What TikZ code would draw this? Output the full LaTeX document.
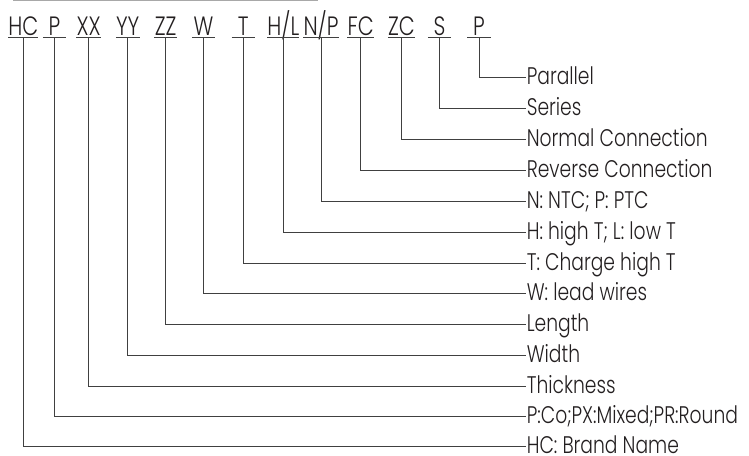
\documentclass[tikz,border=0pt]{standalone}
\usepackage{fontspec}
\setmainfont{Poppins}[UprightFont=* Light, FakeStretch=0.78]
\usepackage{xcolor}
\definecolor{inkgray}{HTML}{231F20}
\definecolor{wiregray}{HTML}{404040}
\definecolor{rulegray}{HTML}{A8A8A8}

\begin{document}
\begin{tikzpicture}[x=1pt, y=-1pt, font=\fontsize{24}{24}\selectfont,
    code/.style={anchor=south, text=inkgray, inner xsep=0pt, inner ysep=1.5pt,
        minimum width=23pt, text depth=0pt, font=\fontsize{26.5}{26.5}\selectfont},
    desc/.style={anchor=west, text=inkgray, inner xsep=0.6pt, inner ysep=0pt,
        text height=14pt, text depth=0pt},
    wire/.style={draw=wiregray, line width=0.9pt}]
            \useasboundingbox (0,0) rectangle (749,455);
            \draw[rulegray, line width=1.2pt] (13,0.6) -- (318,0.6);
            % code letters on top
            \node[code] (hc) at (23.3,37.5) {HC};
            \node[code] (pp) at (54.5,37.5) {P};
            \node[code] (xx) at (88.7,37.5) {XX};
            \node[code] (yy) at (127.7,37.5) {YY};
            \node[code] (zz) at (165.7,37.5) {ZZ};
            \node[code] (ww) at (203.5,37.5) {W};
            \node[code] (tt) at (243.3,37.5) {T};
            \node[code] (hl) at (283.3,37.5) {H/L};
            \node[code] (np) at (321,37.5) {N/P};
            \node[code] (fc) at (360.7,37.5) {FC};
            \node[code] (zc) at (401.5,37.5) {ZC};
            \node[code] (ss) at (439.5,37.5) {S};
            \node[code] (pa) at (479,37.5) {P};
            % meanings on the right
            \node[desc] (paDesc) at (526,77) {Parallel};
            \node[desc] (ssDesc) at (526,108) {Series};
            \node[desc] (zcDesc) at (526,139.5) {Normal Connection};
            \node[desc] (fcDesc) at (526,170.5) {Reverse Connection};
            \node[desc] (npDesc) at (526,201) {N: NTC; P: PTC};
            \node[desc] (hlDesc) at (526,232) {H: high T; L: low T};
            \node[desc] (ttDesc) at (526,263) {T: Charge high T};
            \node[desc] (wwDesc) at (526,293.5) {W: lead wires};
            \node[desc] (zzDesc) at (526,324.5) {Length};
            \node[desc] (yyDesc) at (526,355) {Width};
            \node[desc] (xxDesc) at (526,386) {Thickness};
            \node[desc] (ppDesc) at (526,416.5) {P:Co;PX:Mixed;PR:Round};
            \node[desc] (hcDesc) at (526,446.5) {HC: Brand Name};
            % underlines and leads
            \foreach \c in {hc,pp,xx,yy,zz,ww,tt,hl,np,fc,zc,ss,pa}
                \draw[wire] (\c.south west) -- (\c.south east);
            \draw[wire] (pa.south) |- (paDesc.west);
            \draw[wire] (ss.south) |- (ssDesc.west);
            \draw[wire] (zc.south) |- (zcDesc.west);
            \draw[wire] (fc.south) |- (fcDesc.west);
            \draw[wire] (np.south) |- (npDesc.west);
            \draw[wire] (hl.south) |- (hlDesc.west);
            \draw[wire] (tt.south) |- (ttDesc.west);
            \draw[wire] (ww.south) |- (wwDesc.west);
            \draw[wire] (zz.south) |- (zzDesc.west);
            \draw[wire] (yy.south) |- (yyDesc.west);
            \draw[wire] (xx.south) |- (xxDesc.west);
            \draw[wire] (pp.south) |- (ppDesc.west);
            \draw[wire] (hc.south) |- (hcDesc.west);
        \end{tikzpicture}
\end{document}
